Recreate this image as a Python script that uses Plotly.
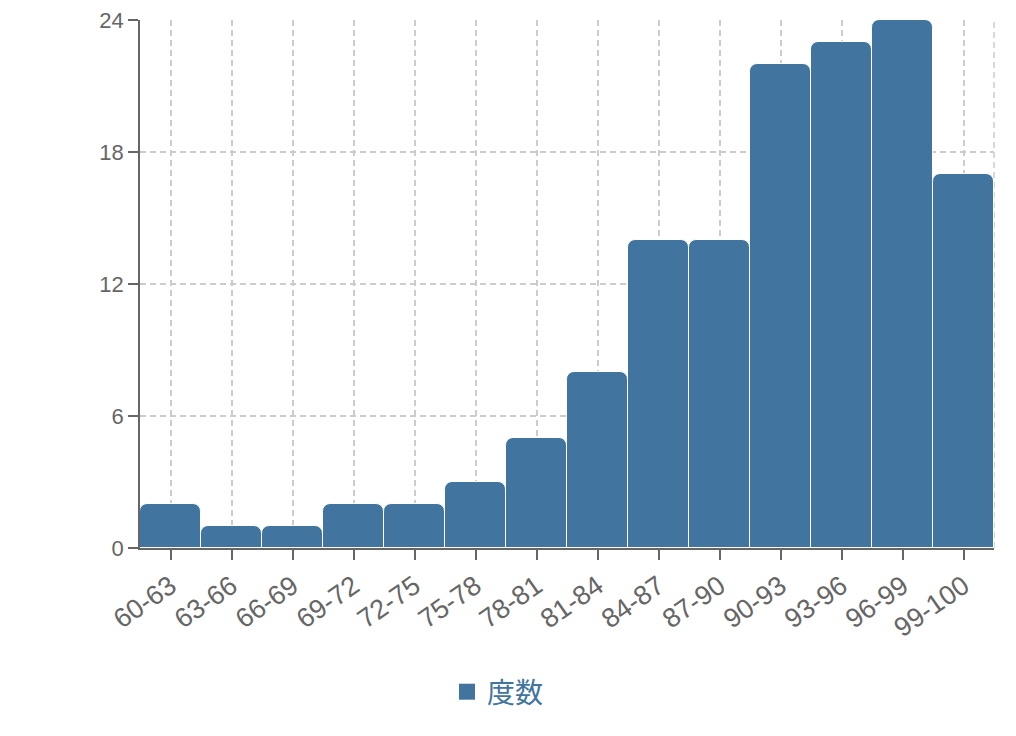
import plotly.graph_objects as go

# 得点区間と度数
bins = ["60-63", "63-66", "66-69", "69-72", "72-75", "75-78", "78-81",
        "81-84", "84-87", "87-90", "90-93", "93-96", "96-99", "99-100"]
counts = [2, 1, 1, 2, 2, 3, 5, 8, 14, 14, 22, 23, 24, 17]
y_ticks = [0, 6, 12, 18, 24]

_BAR = "#41749f"
_AXIS = "#666666"
_GRID = "#cccccc"
_DASH = "6px,4px"

fig = go.Figure()
fig.add_trace(go.Bar(
    x=bins, y=counts,
    name="度数",
    showlegend=False,
    marker=dict(color=_BAR, line=dict(color="white", width=1), cornerradius=8),
))
# 凡例用のダミー（大きめの四角）
fig.add_trace(go.Scatter(
    x=[None], y=[None],
    mode="markers",
    name="度数",
    marker=dict(symbol="square", size=16, color=_BAR),
))

# ページ余白 8px を差し引いたサイズ
fig.update_layout(
    width=1000, height=720,
    margin=dict(l=132, r=14, t=12, b=180),
    plot_bgcolor="white", paper_bgcolor="white",
    bargap=0.0,
    font=dict(family="Liberation Sans, Arial", color=_AXIS),
    showlegend=True,
    legend=dict(
        orientation="h",
        xref="container", yref="container",
        x=0.49, y=0.05, xanchor="center", yanchor="middle",
        font=dict(size=28, color=_BAR, family="Noto Sans CJK JP"),
    ),
    xaxis=dict(
        type="category",
        range=[-0.5, len(bins) - 0.5],
        automargin=False,
        showline=True, linecolor=_AXIS, linewidth=1.5,
        ticks="outside", ticklen=10, tickcolor=_AXIS, tickwidth=1.5,
        tickangle=-35, tickfont=dict(size=27, color=_AXIS),
        showgrid=True, gridcolor=_GRID, griddash=_DASH, gridwidth=1.5,
    ),
    yaxis=dict(
        range=[0, 24],
        tickvals=y_ticks,
        automargin=False,
        ticklabeloverflow="allow",
        showline=True, linecolor=_AXIS, linewidth=1.5,
        ticks="outside", ticklen=10, tickcolor=_AXIS, tickwidth=1.5,
        tickfont=dict(size=22, color=_AXIS),
        showgrid=True, gridcolor=_GRID, griddash=_DASH, gridwidth=1.5,
        zeroline=False,
    ),
)

# 右端の破線枠
fig.add_shape(type="line", xref="paper", yref="paper", x0=1, x1=1, y0=0, y1=1,
              line=dict(color=_GRID, dash=_DASH, width=1.5), layer="below")

fig.write_html("out.html")
